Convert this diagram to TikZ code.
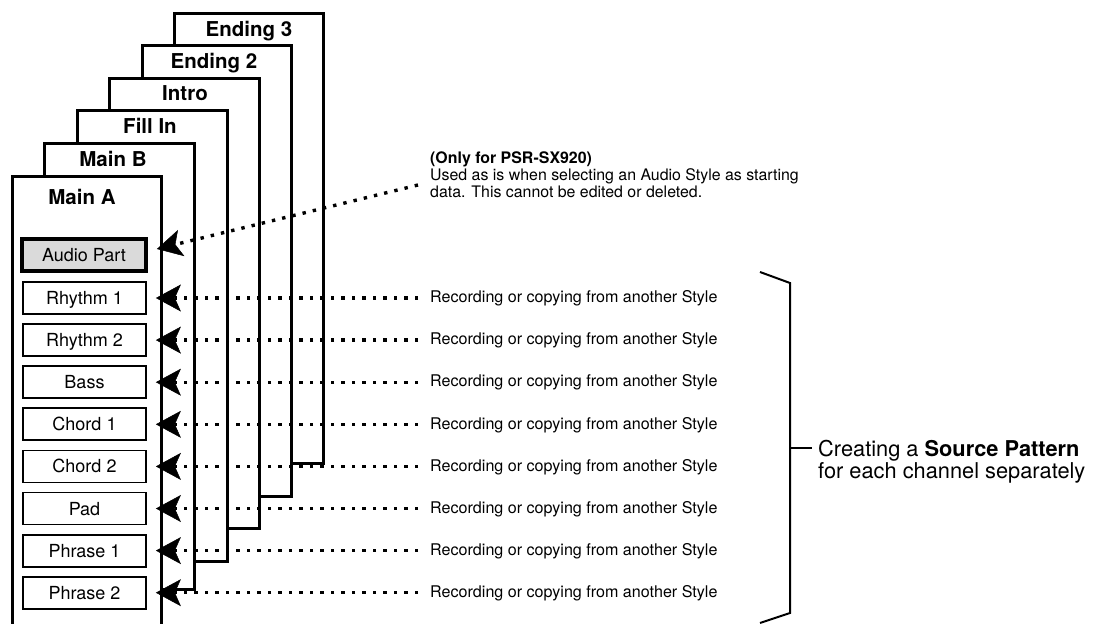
\documentclass[tikz,border=0pt]{standalone}
\usepackage{fontspec}
\setmainfont{TeX Gyre Heros}
\usetikzlibrary{arrows.meta}
\definecolor{audiogray}{RGB}{218,218,218}
\begin{document}
\begin{tikzpicture}[x=1pt,y=-1pt,
  page/.style={draw=black, fill=white, line width=3pt, rectangle, anchor=north west, inner sep=0pt},
  title/.style={font=\fontsize{20.5}{24}\selectfont\bfseries, anchor=base, inner sep=0pt},
  part/.style={draw=black, fill=white, line width=1.8pt, minimum width=123pt, minimum height=32pt, inner sep=0pt, font=\fontsize{18}{20}\selectfont, text height=13pt, text depth=0pt},
  note/.style={font=\fontsize{16.1}{17}\selectfont, inner sep=0pt, anchor=west, text height=11.5pt, text depth=0pt},
  feed/.style={line width=3.4pt, dash pattern=on 3.4pt off 7.1pt, -{Stealth[length=25pt,width=27pt,inset=6pt,line width=0.5pt]}, shorten >=9pt},
  bracket/.style={line width=2pt, line join=miter}
]
\useasboundingbox (0,0) rectangle (1101,624);
% pages, back to front
\node[page, minimum width=149pt, minimum height=450pt] (e3) at (173,12) {};
\node[title] (te3) at (249,36.4) {Ending 3};
\node[page, minimum width=149pt, minimum height=451pt] (e2) at (141,44) {};
\node[title] (te2) at (214,68.5) {Ending 2};
\node[page, minimum width=150pt, minimum height=450pt] (in) at (108,77) {};
\node[title] (tin) at (185,100) {Intro};
\node[page, minimum width=150pt, minimum height=451pt] (fi) at (76,109) {};
\node[title] (tfi) at (150,133.3) {Fill In};
\node[page, minimum width=150pt, minimum height=446pt] (mb) at (43,142) {};
\node[title] (tmb) at (113,166.7) {Main B};
\node[page, minimum width=149pt, minimum height=470pt] (ma) at (11,175) {};
\node[title] (tma) at (82,204) {Main A};
% parts
\node[part, fill=audiogray, line width=3.8pt, minimum width=124pt] (ap) at (84,255) {Audio Part};
\foreach \i/\lab/\y in {1/Rhythm 1/298, 2/Rhythm 2/340.1, 3/Bass/382.2, 4/Chord 1/424.3, 5/Chord 2/466.4, 6/Pad/508.5, 7/Phrase 1/550.6, 8/Phrase 2/592.7}{
  \node[part] (p\i) at (84.5,\y) {\lab};
  \node[note] (r\i) at (430,\y-1) {Recording or copying from another Style};
  \draw[feed] ([xshift=-12pt,yshift=-1pt]r\i.west) -- (p\i.east);
}
% audio note
\node[font=\fontsize{15.9}{16.7}\selectfont, inner sep=0pt, anchor=north west, align=left] (ann) at (430,152) {\textbf{(Only for PSR-SX920)}\\Used as is when selecting an Audio Style as starting\\data. This cannot be edited or deleted.};
\coordinate (annend) at (418,185);
\draw[feed, shorten >=0pt] (annend) -- ([shift={(9,-6)}]ap.east);
% bracket
\coordinate (bm) at (790,448);
\draw[bracket] (760,272) -- (790,283) -- (790,613) -- (760,623);
\node[font=\fontsize{21.8}{20}\selectfont, inner sep=0pt, anchor=north west, align=left] (src) at (818,440) {Creating a \textbf{Source Pattern}\\for each channel separately};
\draw[bracket] (bm) -- ([xshift=-6pt]bm -| src.west);
\end{tikzpicture}
\end{document}
